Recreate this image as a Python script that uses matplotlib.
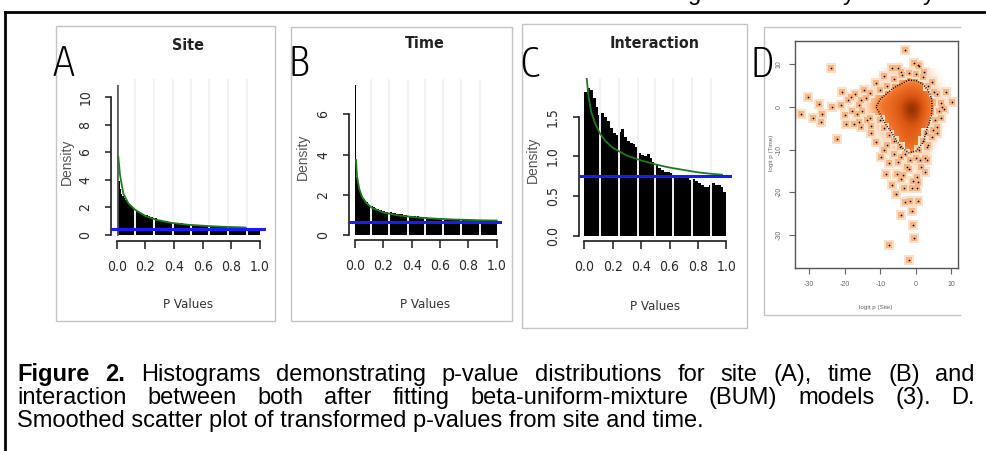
import os
import numpy as np
import matplotlib
matplotlib.use("Agg")
import matplotlib.pyplot as plt
from matplotlib import font_manager as fm
from matplotlib.font_manager import FontProperties
from matplotlib.colors import LinearSegmentedColormap

W, H = 986, 451

# ---------------- font choice (narrow fonts for the panel texts) ----------------
ENTRIES = fm.fontManager.ttflist


def wnum(w):
    if isinstance(w, str):
        return fm.weight_dict.get(w, 400)
    return int(w)


def tag(f):
    return (os.path.basename(f.fname) + ' ' + f.name).lower().replace(' ', '').replace('-', '')


def pick(weight_lo, weight_hi, prefs):
    cands = [f for f in ENTRIES if f.style == 'normal' and weight_lo <= wnum(f.weight) <= weight_hi]
    for p in prefs:
        hits = [f for f in cands if p(tag(f))]
        if hits:
            return hits[0].fname
    return None


PREF_NARROW = [lambda s: 'liberationsansnarrow' in s,
               lambda s: 'notosans' in s and 'condensed' in s and 'semi' not in s and 'extra' not in s and 'cjk' not in s,
               lambda s: 'dejavusanscondensed' in s,
               lambda s: 'condensed' in s and 'extra' not in s,
               lambda s: 'narrow' in s]
PREF_THIN = [lambda s: 'notosans' in s and 'extracondensed' in s and 'cjk' not in s,
             lambda s: 'notosans' in s and 'condensed' in s and 'semi' not in s and 'cjk' not in s,
             lambda s: 'condensed' in s,
             lambda s: 'narrow' in s]

f_reg = pick(350, 450, PREF_NARROW)
f_bold = pick(600, 800, PREF_NARROW)
f_thin = pick(200, 320, PREF_THIN) or pick(350, 450, PREF_THIN)


def fp(path, size, fallback_weight='normal'):
    if path:
        return FontProperties(fname=path, size=size)
    return FontProperties(family=['Liberation Sans', 'DejaVu Sans'], size=size, weight=fallback_weight)


plt.rcParams['font.family'] = ['Liberation Sans', 'DejaVu Sans']

# ---------------- data ----------------
site_density = [10.85, 3.9, 3.3, 3.0, 2.85, 2.7, 2.5, 2.4, 2.25, 2.15,
                2.0, 1.95, 1.85, 1.8, 1.7, 1.68, 1.6, 1.55, 1.5, 1.45,
                1.45, 1.42, 1.38, 1.3, 1.27, 1.26, 1.22, 1.2, 1.12, 1.1,
                1.08, 1.05, 1.02, 1.0, 1.0, 0.98, 0.97, 0.95, 0.92, 0.93,
                0.9, 0.88, 0.9, 0.86, 0.85, 0.84, 0.82, 0.83, 0.8, 0.78,
                0.79, 0.77, 0.75, 0.76, 0.74, 0.72, 0.73, 0.71, 0.7, 0.7,
                0.69, 0.68, 0.66, 0.67, 0.65, 0.64, 0.65, 0.63, 0.62, 0.62,
                0.61, 0.6, 0.61, 0.59, 0.58, 0.59, 0.57, 0.57, 0.56, 0.57,
                0.55, 0.55, 0.54, 0.55, 0.53, 0.53, 0.52, 0.53, 0.52, 0.51,
                0.52, 0.5, 0.51, 0.5, 0.49, 0.5, 0.49, 0.48, 0.49, 0.47]
site_fit_x = [0.011, 0.023, 0.046, 0.081, 0.128, 0.2, 0.27, 0.38, 0.5, 0.62, 0.73, 0.85, 0.9]
site_fit_y = [5.67, 4.35, 3.0, 2.3, 1.83, 1.38, 1.12, 0.88, 0.74, 0.66, 0.6, 0.56, 0.54]
site_unif = 0.41
site_gaps = [0.128, 0.26, 0.39, 0.52, 0.646, 0.775, 0.907]

time_density = [7.46, 2.9, 2.45, 2.2, 2.05, 1.92, 1.8, 1.7, 1.62, 1.55,
                1.48, 1.42, 1.45, 1.38, 1.32, 1.3, 1.27, 1.24, 1.22, 1.2,
                1.18, 1.16, 1.15, 1.13, 1.16, 1.12, 1.1, 1.08, 1.1, 1.06,
                1.05, 1.04, 1.06, 1.02, 1.0, 0.99, 0.98, 0.97, 0.96, 0.95,
                0.94, 0.93, 0.92, 0.91, 0.92, 0.9, 0.89, 0.88, 0.88, 0.87,
                0.87, 0.86, 0.85, 0.86, 0.84, 0.83, 0.84, 0.83, 0.82, 0.82,
                0.81, 0.8, 0.81, 0.8, 0.79, 0.8, 0.79, 0.78, 0.79, 0.78,
                0.77, 0.78, 0.79, 0.77, 0.76, 0.77, 0.76, 0.75, 0.76, 0.75,
                0.75, 0.74, 0.75, 0.74, 0.74, 0.75, 0.74, 0.73, 0.74, 0.73,
                0.74, 0.73, 0.72, 0.73, 0.72, 0.73, 0.72, 0.73, 0.72, 0.71]
time_fit_x = [0.007, 0.015, 0.03, 0.05, 0.08, 0.12, 0.2, 0.3, 0.4, 0.5, 0.6, 0.7, 0.8, 0.9, 1.0]
time_fit_y = [3.73, 2.9, 2.3, 1.9, 1.6, 1.35, 1.12, 0.98, 0.9, 0.84, 0.8, 0.77, 0.75, 0.73, 0.72]
time_unif = 0.63
time_gaps = [0.113, 0.243, 0.373, 0.494, 0.62, 0.75, 0.885]

inter_density = [1.81, 1.86, 1.84, 1.73, 1.62, 1.52, 1.54, 1.50, 1.44, 1.36,
                 1.29, 1.27, 1.31, 1.35, 1.24, 1.19, 1.17, 1.15, 1.12, 1.04,
                 1.02, 1.00, 1.03, 0.98, 0.93, 0.89, 0.85, 0.83, 0.81, 0.81,
                 0.79, 0.76, 0.74, 0.77, 0.75, 0.77, 0.73, 0.70, 0.72, 0.69,
                 0.66, 0.64, 0.61, 0.62, 0.64, 0.66, 0.64, 0.64, 0.61, 0.55]
inter_fit_x = [0.017, 0.03, 0.05, 0.08, 0.11, 0.15, 0.2, 0.25, 0.3, 0.4, 0.5, 0.6, 0.7, 0.8, 0.9, 0.97]
inter_fit_y = [1.98, 1.75, 1.55, 1.40, 1.29, 1.19, 1.11, 1.06, 1.01, 0.95, 0.90, 0.86, 0.83, 0.80, 0.78, 0.77]
inter_unif = 0.754
inter_gaps = [0.11, 0.245, 0.375, 0.50, 0.625, 0.755, 0.89]

# smoothed scatter: coarse density grid (rows top->bottom) and plotted points
grid_x = [-16, -14, -12, -10, -8, -6, -4, -2, 0, 2, 4, 6, 8]
grid_y = [8, 6, 4, 2, 0, -2, -4, -6, -8, -10, -12, -14]
grid_density = [
    [0, 0, 0, 0, .05, .08, .10, .12, .12, .10, .05, 0, 0],
    [0, 0, 0, .05, .12, .20, .30, .40, .38, .30, .10, .05, 0],
    [0, .03, .08, .15, .30, .42, .50, .55, .55, .48, .30, .10, 0],
    [.02, .08, .20, .35, .45, .55, .65, .75, .75, .60, .42, .15, .03],
    [.03, .10, .30, .45, .50, .60, .75, .95, .95, .70, .45, .15, .03],
    [.02, .08, .15, .35, .48, .55, .70, .90, .90, .65, .42, .12, .02],
    [0, .05, .08, .20, .42, .52, .62, .72, .72, .57, .32, .08, 0],
    [0, 0, .05, .08, .22, .45, .55, .62, .60, .48, .18, .05, 0],
    [0, 0, 0, .05, .10, .30, .50, .60, .55, .40, .10, 0, 0],
    [0, 0, 0, 0, .05, .10, .30, .45, .40, .20, .05, 0, 0],
    [0, 0, 0, 0, 0, .05, .10, .20, .18, .08, 0, 0, 0],
    [0, 0, 0, 0, 0, 0, .05, .08, .06, 0, 0, 0, 0],
]
pts_site = [-2.9, -23.8, -30.3, -27.2, -32.2, -28.8, -26.3, -26.6, -22.1, -20.7, -23.5,
            -7.6, -1.8, -0.6, -0.7, -1.0, -4.3, -2.9, -1.5, 0.6, 0.4, -3.4, -5.7, -6.6,
            -8.5, -9.9, 2.7, 3.1, 10.2, 8.6, 7.1, 7.5, -0.6, 0.6, 2.2, -6.6, -4.3, -9.0,
            -11.3, 4.6, 5.1, -18.3, -15.5, -16.5, -13.6, -12.7, -15.5, -19.7, -11.3,
            -9.0, 3.1, 4.6, 6.0, 1.3, -2.4, -4.3, -5.2, 0.4, -0.9, -4.3, -7.6,
            -14, -15, -13, -16, -17, -18, -19, -20, -21, -14.5, -16, -13, -12.5, -17.5,
            -8, -6, -4, -2, 0, 2, 3.5, -10, -5, 1,
            6, 6.5, 7, 5.5, 8, 4.8, 6,
            -10, -9, -7.5, -6, -4.5, -3, -8, -6, -5,
            3, 2, 1, 3.5, 2.5, 0, -1.5, -2, 1.5, -3.5, 0.5, -1]
pts_time = [13.3, 9.0, 2.3, 0.6, -1.7, -2.7, -1.6, -3.5, -7.6, 3.5, 0.0,
            -32.4, -35.9, -30.6, -27.7, -24.4, -25.4, -22.2, -22.1, -22.0, -19.1, -19.1, -20.3, -18.4,
            -15.6, -11.7, -15.2, -12.4, 1.2, 3.5, -2.7, 0.0, 10.2, 9.8, 8.2, 9.0, 8.2, 7.2,
            5.5, 5.9, 3.5, 2.3, 1.6, -1.6, -3.1, -6.2, -4.7, -3.9, -8.2,
            -10.1, -9.4, -7.0, -4.7, -12.4, -14.1, -11.7, -15.6, -16.4, -17.3, -17.0, -13.1,
            2, -1, -2.5, 0.5, 3, -1, 1.5, -2, 0.5, 4, -3.5, 3.2, -4.5, -4,
            5, 6.5, 7.5, 8, 7.8, 7, 5, 4, 9, 9.5,
            3, -1, 1, -3, -0.5, -5.5, -6,
            -3, -5, -6.5, -8, -9.5, -11, -9, -11, -13,
            -6, -8, -10, -9, -12, -12, -12.5, -14.5, -14, -16, -17.5, -19]

caption_l1 = "Figure 2. Histograms demonstrating p-value distributions for site (A), time (B) and"
caption_l2 = "interaction between both after fitting beta-uniform-mixture (BUM) models (3). D."
caption_l3 = "Smoothed scatter plot of transformed p-values from site and time."

# ---------------- figure ----------------
fig = plt.figure(figsize=(W / 100, H / 100), dpi=100)
ov = fig.add_axes([0, 0, 1, 1])
ov.set_xlim(0, W)
ov.set_ylim(H, 0)
ov.axis('off')


def px_axes(l, t, r, b):
    a = fig.add_axes([l / W, 1 - b / H, (r - l) / W, (b - t) / H])
    a.patch.set_alpha(0)
    return a


CAP_SIZE = 17

# outer border (black)
ov.plot([5, W], [12, 12], color='black', lw=2)
ov.plot([5, 5], [12, H], color='black', lw=2)
# cut-off text fragments above the figure
for ch, xx in [('g', 688), ('y', 843), ('y', 923)]:
    ov.text(xx, 0.0, ch, fontsize=CAP_SIZE, va='baseline', ha='left', color='black')

# panel frames
frame_c = '#c4c4c4'
for (l, t, r, b) in [(56, 26, 275, 321), (291, 27, 512, 321), (522, 24, 747, 328)]:
    ov.add_patch(plt.Rectangle((l, t), r - l, b - t, fill=False, ec=frame_c, lw=1))
ov.plot([960, 764, 764, 960], [27, 27, 315, 315], color=frame_c, lw=1)

# panel letters
for lab, xx, yy in [('A', 52, 76), ('B', 287, 76), ('C', 519, 77), ('D', 750, 77)]:
    ov.text(xx, yy, lab, fontproperties=fp(f_thin, 32), va='baseline', ha='left', color='black')

TXT = '#2a2a2a'


def hist_panel(rect, heights, nbins, fit_x, fit_y, unif, gaps, ylim, yticks, ytl,
               first_color='black'):
    ax = px_axes(*rect)
    edges = np.linspace(0, 1, nbins + 1)
    centers = (edges[:-1] + edges[1:]) / 2
    colors = [first_color] + ['black'] * (nbins - 1)
    ax.bar(centers, heights, width=1.0 / nbins, color=colors, linewidth=0, zorder=2)
    if first_color != 'black':
        ax.bar(centers[:1], heights[:1], width=1.0 / nbins, fill=False,
               edgecolor='#555555', linewidth=0.6, zorder=2.1)
    ax.vlines(gaps, 0, ylim[1], colors='#f2f2f2', linewidth=1.4, zorder=3)
    ax.plot(fit_x, fit_y, color='#1f7a1f', lw=1.3, zorder=4)
    ax.axhline(unif, color='#1a1aff', lw=2.2, zorder=5)
    ax.set_xlim(-0.04, 1.04)
    ax.set_ylim(*ylim)
    for s in ['top', 'right']:
        ax.spines[s].set_visible(False)
    for s in ['left', 'bottom']:
        ax.spines[s].set_linewidth(1.2)
        ax.spines[s].set_color('#1a1a1a')
    ax.spines['left'].set_bounds(yticks[0], yticks[-1])
    ax.spines['bottom'].set_bounds(0, 1)
    ax.set_xticks([0, 0.2, 0.4, 0.6, 0.8, 1.0])
    ax.set_xticklabels(['0.0', '0.2', '0.4', '0.6', '0.8', '1.0'], fontproperties=fp(f_reg, 10))
    ax.set_yticks(yticks)
    ax.set_yticklabels(ytl, rotation=90, va='center', fontproperties=fp(f_reg, 10))
    ax.tick_params(axis='x', direction='out', length=5.5, width=1.1, pad=8,
                   labelcolor=TXT, color='#1a1a1a')
    ax.tick_params(axis='y', direction='out', length=4.5, width=1.1, pad=9,
                   labelcolor=TXT, color='#1a1a1a')
    return ax


hist_panel((111, 79, 265.7, 240.8), site_density, 100, site_fit_x, site_fit_y, site_unif,
           site_gaps, (-0.42, 11.3), [0, 2, 4, 6, 8, 10], ['0', '2', '4', '6', '8', '10'],
           first_color='#8c8c8c')
hist_panel((349.3, 79, 502.4, 240), time_density, 100, time_fit_x, time_fit_y, time_unif,
           time_gaps, (-0.25, 7.76), [0, 2, 4, 6], ['0', '2', '4', '6'])
hist_panel((578.6, 78.4, 732, 240.8), inter_density, 50, inter_fit_x, inter_fit_y, inter_unif,
           inter_gaps, (-0.06, 1.98), [0.0, 0.5, 1.0, 1.5], ['0.0', '0.5', '1.0', '1.5'])

# titles / labels of histogram panels
for t, xx, yy in [('Site', 188, 45), ('Time', 425, 43), ('Interaction', 655, 43)]:
    ov.text(xx, yy, t, fontproperties=fp(f_bold, 11.5, 'bold'), ha='center', va='center',
            color='#222222')
for xx, yy in [(188, 305), (425, 305), (655, 307)]:
    ov.text(xx, yy, 'P Values', fontproperties=fp(f_reg, 9.5), ha='center', va='center',
            color='#333333')
for xx, yy in [(67, 162), (303, 157), (533, 160)]:
    ov.text(xx, yy, 'Density', fontsize=10, ha='center', va='center', rotation=90,
            color='#555555')

# ---------------- panel D: smoothed scatter ----------------
axd = px_axes(795, 40.7, 957.7, 268.3)
cmap = LinearSegmentedColormap.from_list('ss', [
    (0.0, '#ffffff'), (0.06, '#fee9d8'), (0.18, '#fdc9a0'), (0.32, '#f99a5a'),
    (0.45, '#f07228'), (0.7, '#d95511'), (0.88, '#a63a06'), (1.0, '#6e2303')])
gx = np.array(grid_x)
gy = np.array(grid_y)
gd = np.array(grid_density)
axd.imshow(gd, extent=[gx[0] - 1, gx[-1] + 1, gy[-1] - 1, gy[0] + 1], origin='upper',
           cmap=cmap, vmin=0, vmax=1, interpolation='bicubic', aspect='auto', zorder=1)
axd.contour(gx, gy, gd, levels=[0.36], colors='k', linewidths=1.1,
            linestyles=[(0, (0.6, 1.0))], zorder=3)
axd.scatter(pts_site, pts_time, s=60, marker='s', color='#fde0c8', linewidths=0, zorder=2)
axd.scatter(pts_site, pts_time, s=20, marker='s', color='#f9b585', linewidths=0, zorder=2.5)
axd.scatter(pts_site, pts_time, s=1.5, color='black', linewidths=0, zorder=4)
axd.set_xlim(-34, 11.8)
axd.set_ylim(-37.8, 15.5)
for s in axd.spines.values():
    s.set_color('#555555')
    s.set_linewidth(1.0)
axd.set_xticks([-30, -20, -10, 0, 10])
axd.set_xticklabels(['-30', '-20', '-10', '0', '10'])
axd.set_yticks([-30, -20, -10, 0, 10])
axd.set_yticklabels(['-30', '-20', '-10', '0', '10'], rotation=90, va='center')
axd.tick_params(direction='out', length=4, width=0.8, color='#666666', labelsize=5,
                labelcolor='#666666', pad=5)
ov.text(876, 308, 'logit p (Site)', fontsize=4.5, ha='center', va='center', color='#666666')
ov.text(771.5, 153, 'logit p (Time)', fontsize=4.5, ha='center', va='center', rotation=90,
        color='#666666')

# ---------------- caption ----------------
renderer = fig.canvas.get_renderer()


def justify(line, y, x0, x1, bold_words=0):
    words = line.split(' ')
    texts = []
    for i, w in enumerate(words):
        texts.append(ov.text(x0, y, w, fontsize=CAP_SIZE, va='baseline', ha='left',
                             fontweight='bold' if i < bold_words else 'normal', color='black'))
    widths = [t.get_window_extent(renderer).width for t in texts]
    gap = (x1 - x0 - sum(widths)) / (len(words) - 1)
    x = x0
    for t, wd in zip(texts, widths):
        t.set_x(x)
        x += wd + gap


justify(caption_l1, 381, 17, 975, bold_words=2)
justify(caption_l2, 404, 17, 975)
ov.text(17, 427, caption_l3, fontsize=CAP_SIZE, va='baseline', ha='left', color='black')

fig.savefig('out.png', dpi=100)
